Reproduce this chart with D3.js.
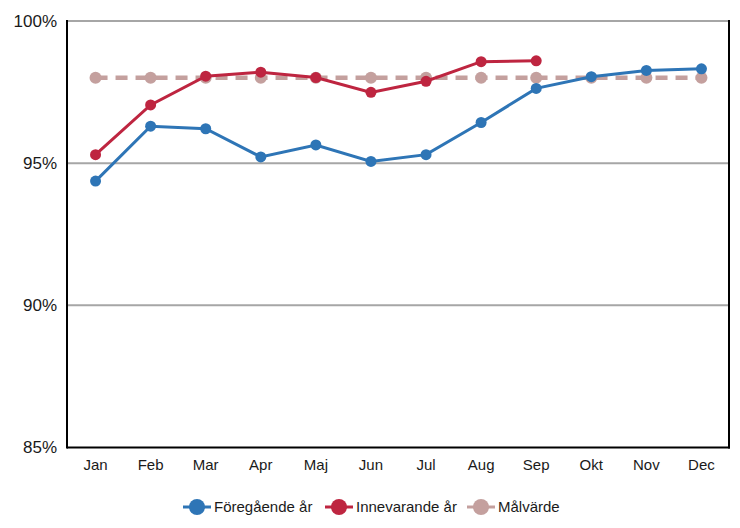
<!DOCTYPE html>
<html>
<head>
<meta charset="utf-8">
<script src="https://cdn.jsdelivr.net/npm/d3@7"></script>
<style>
  html, body { margin: 0; padding: 0; background: #fff; }
  svg { display: block; font-family: "Liberation Sans", Arial, sans-serif; }
</style>
</head>
<body>
<svg id="chart" width="740" height="528"></svg>
<script>
// Monthly share (%) per series
const months = ["Jan", "Feb", "Mar", "Apr", "Maj", "Jun", "Jul", "Aug", "Sep", "Okt", "Nov", "Dec"];
const previousYear = [94.37, 96.30, 96.21, 95.22, 95.64, 95.06, 95.30, 96.43, 97.63, 98.04, 98.26, 98.32];
const currentYear = [95.30, 97.05, 98.06, 98.20, 98.01, 97.49, 97.88, 98.57, 98.60];
const targetValue = [98, 98, 98, 98, 98, 98, 98, 98, 98, 98, 98, 98];
const yTicks = [85, 90, 95, 100];
const seriesNames = ["Föregående år", "Innevarande år", "Målvärde"];

const colors = { prev: "#2e75b6", curr: "#be2540", target: "#c4a09e" };

const svg = d3.select("#chart");
const plot = { left: 67, right: 729, top: 21, bottom: 447.5 };

const x = d3.scaleBand().domain(months).range([plot.left + 1, plot.right]).paddingInner(0).paddingOuter(0);
const y = d3.scaleLinear().domain([85, 100]).range([plot.bottom, plot.top]);
const cx = m => x(m) + x.bandwidth() / 2;

// Horizontal gridlines
svg.append("g").selectAll("line").data(yTicks.filter(t => t > 85)).join("line")
  .attr("x1", plot.left).attr("x2", plot.right)
  .attr("y1", d => y(d)).attr("y2", d => y(d))
  .attr("stroke", "#a6a6a6").attr("stroke-width", 2);

// Frame: black left, right and bottom edges
svg.append("line").attr("x1", plot.left).attr("x2", plot.left).attr("y1", plot.top - 1).attr("y2", plot.bottom + 1)
  .attr("stroke", "#000").attr("stroke-width", 2);
svg.append("line").attr("x1", plot.right).attr("x2", plot.right).attr("y1", plot.top - 1).attr("y2", plot.bottom + 1)
  .attr("stroke", "#000").attr("stroke-width", 2);
svg.append("line").attr("x1", plot.left).attr("x2", plot.right + 1).attr("y1", plot.bottom).attr("y2", plot.bottom)
  .attr("stroke", "#000").attr("stroke-width", 2);

// Y axis labels
const yAxis = d3.axisLeft(y).tickValues(yTicks).tickFormat(d => d + "%").tickSize(0).tickPadding(10);
const gy = svg.append("g").attr("transform", `translate(${plot.left},0)`).call(yAxis);
gy.select(".domain").remove();
gy.selectAll("text").attr("font-size", 17).attr("fill", "#1a1a1a")
  .attr("font-family", "Liberation Sans, Arial, sans-serif");

// X axis labels
const xAxis = d3.axisBottom(x).tickSize(0).tickPadding(12);
const gx = svg.append("g").attr("transform", `translate(0,${plot.bottom})`).call(xAxis);
gx.select(".domain").remove();
gx.selectAll("text").attr("font-size", 15).attr("fill", "#1a1a1a")
  .attr("font-family", "Liberation Sans, Arial, sans-serif");

const line = d3.line().x((d, i) => cx(months[i])).y(d => y(d));

// Target line (dashed)
svg.append("path").datum(targetValue).attr("d", line)
  .attr("fill", "none").attr("stroke", colors.target).attr("stroke-width", 4.5)
  .attr("stroke-dasharray", "12,8").attr("stroke-linecap", "butt");
svg.append("g").selectAll("circle").data(targetValue).join("circle")
  .attr("cx", (d, i) => cx(months[i])).attr("cy", d => y(d)).attr("r", 6)
  .attr("fill", colors.target);

// Previous year
svg.append("path").datum(previousYear).attr("d", line)
  .attr("fill", "none").attr("stroke", colors.prev).attr("stroke-width", 3);
svg.append("g").selectAll("circle").data(previousYear).join("circle")
  .attr("cx", (d, i) => cx(months[i])).attr("cy", d => y(d)).attr("r", 5.5)
  .attr("fill", colors.prev);

// Current year
svg.append("path").datum(currentYear).attr("d", line)
  .attr("fill", "none").attr("stroke", colors.curr).attr("stroke-width", 3);
svg.append("g").selectAll("circle").data(currentYear).join("circle")
  .attr("cx", (d, i) => cx(months[i])).attr("cy", d => y(d)).attr("r", 5.5)
  .attr("fill", colors.curr);

// Legend
const legendItems = [
  { name: seriesNames[0], color: colors.prev, x: 183 },
  { name: seriesNames[1], color: colors.curr, x: 325 },
  { name: seriesNames[2], color: colors.target, x: 467 }
];
const lg = svg.append("g").attr("transform", "translate(0,507)");
const item = lg.selectAll("g").data(legendItems).join("g")
  .attr("transform", d => `translate(${d.x},0)`);
item.append("line").attr("x1", 0).attr("x2", 28).attr("y1", 0).attr("y2", 0)
  .attr("stroke", d => d.color).attr("stroke-width", 3);
item.append("circle").attr("cx", 14).attr("cy", 0).attr("r", 8).attr("fill", d => d.color);
item.append("text").attr("x", 31).attr("y", 0).attr("dy", "0.35em")
  .attr("font-size", 15).attr("fill", "#1a1a1a").text(d => d.name);
</script>
</body>
</html>
